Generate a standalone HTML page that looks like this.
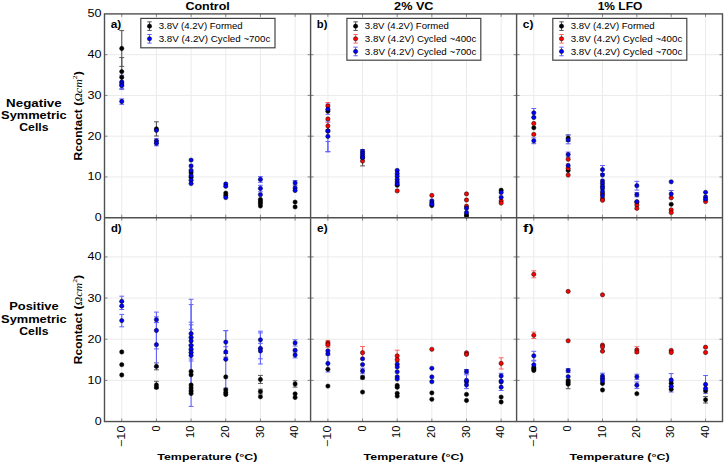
<!DOCTYPE html>
<html><head><meta charset="utf-8"><style>
html,body{margin:0;padding:0;background:#fff;}
body{width:725px;height:463px;overflow:hidden;}
svg{display:block;font-family:"Liberation Sans", sans-serif;}
</style></head><body>
<svg width="725" height="463" viewBox="0 0 725 463" font-family='"Liberation Sans", sans-serif'>
<rect width="725" height="463" fill="#fff"/>
<line x1="121.75" y1="13.9" x2="121.75" y2="421.55" stroke="#ebebeb" stroke-width="1"/>
<line x1="156.42" y1="13.9" x2="156.42" y2="421.55" stroke="#ebebeb" stroke-width="1"/>
<line x1="191.09" y1="13.9" x2="191.09" y2="421.55" stroke="#ebebeb" stroke-width="1"/>
<line x1="225.76" y1="13.9" x2="225.76" y2="421.55" stroke="#ebebeb" stroke-width="1"/>
<line x1="260.43" y1="13.9" x2="260.43" y2="421.55" stroke="#ebebeb" stroke-width="1"/>
<line x1="295.10" y1="13.9" x2="295.10" y2="421.55" stroke="#ebebeb" stroke-width="1"/>
<line x1="104.5" y1="176.95" x2="310.6" y2="176.95" stroke="#ebebeb" stroke-width="1"/>
<line x1="104.5" y1="380.39" x2="310.6" y2="380.39" stroke="#ebebeb" stroke-width="1"/>
<line x1="104.5" y1="136.20" x2="310.6" y2="136.20" stroke="#ebebeb" stroke-width="1"/>
<line x1="104.5" y1="339.23" x2="310.6" y2="339.23" stroke="#ebebeb" stroke-width="1"/>
<line x1="104.5" y1="95.45" x2="310.6" y2="95.45" stroke="#ebebeb" stroke-width="1"/>
<line x1="104.5" y1="298.07" x2="310.6" y2="298.07" stroke="#ebebeb" stroke-width="1"/>
<line x1="104.5" y1="54.70" x2="310.6" y2="54.70" stroke="#ebebeb" stroke-width="1"/>
<line x1="104.5" y1="256.91" x2="310.6" y2="256.91" stroke="#ebebeb" stroke-width="1"/>
<line x1="327.90" y1="13.9" x2="327.90" y2="421.55" stroke="#ebebeb" stroke-width="1"/>
<line x1="362.55" y1="13.9" x2="362.55" y2="421.55" stroke="#ebebeb" stroke-width="1"/>
<line x1="397.20" y1="13.9" x2="397.20" y2="421.55" stroke="#ebebeb" stroke-width="1"/>
<line x1="431.85" y1="13.9" x2="431.85" y2="421.55" stroke="#ebebeb" stroke-width="1"/>
<line x1="466.50" y1="13.9" x2="466.50" y2="421.55" stroke="#ebebeb" stroke-width="1"/>
<line x1="501.15" y1="13.9" x2="501.15" y2="421.55" stroke="#ebebeb" stroke-width="1"/>
<line x1="310.6" y1="176.95" x2="516.6" y2="176.95" stroke="#ebebeb" stroke-width="1"/>
<line x1="310.6" y1="380.39" x2="516.6" y2="380.39" stroke="#ebebeb" stroke-width="1"/>
<line x1="310.6" y1="136.20" x2="516.6" y2="136.20" stroke="#ebebeb" stroke-width="1"/>
<line x1="310.6" y1="339.23" x2="516.6" y2="339.23" stroke="#ebebeb" stroke-width="1"/>
<line x1="310.6" y1="95.45" x2="516.6" y2="95.45" stroke="#ebebeb" stroke-width="1"/>
<line x1="310.6" y1="298.07" x2="516.6" y2="298.07" stroke="#ebebeb" stroke-width="1"/>
<line x1="310.6" y1="54.70" x2="516.6" y2="54.70" stroke="#ebebeb" stroke-width="1"/>
<line x1="310.6" y1="256.91" x2="516.6" y2="256.91" stroke="#ebebeb" stroke-width="1"/>
<line x1="533.80" y1="13.9" x2="533.80" y2="421.55" stroke="#ebebeb" stroke-width="1"/>
<line x1="568.15" y1="13.9" x2="568.15" y2="421.55" stroke="#ebebeb" stroke-width="1"/>
<line x1="602.50" y1="13.9" x2="602.50" y2="421.55" stroke="#ebebeb" stroke-width="1"/>
<line x1="636.85" y1="13.9" x2="636.85" y2="421.55" stroke="#ebebeb" stroke-width="1"/>
<line x1="671.20" y1="13.9" x2="671.20" y2="421.55" stroke="#ebebeb" stroke-width="1"/>
<line x1="705.55" y1="13.9" x2="705.55" y2="421.55" stroke="#ebebeb" stroke-width="1"/>
<line x1="516.6" y1="176.95" x2="722.5" y2="176.95" stroke="#ebebeb" stroke-width="1"/>
<line x1="516.6" y1="380.39" x2="722.5" y2="380.39" stroke="#ebebeb" stroke-width="1"/>
<line x1="516.6" y1="136.20" x2="722.5" y2="136.20" stroke="#ebebeb" stroke-width="1"/>
<line x1="516.6" y1="339.23" x2="722.5" y2="339.23" stroke="#ebebeb" stroke-width="1"/>
<line x1="516.6" y1="95.45" x2="722.5" y2="95.45" stroke="#ebebeb" stroke-width="1"/>
<line x1="516.6" y1="298.07" x2="722.5" y2="298.07" stroke="#ebebeb" stroke-width="1"/>
<line x1="516.6" y1="54.70" x2="722.5" y2="54.70" stroke="#ebebeb" stroke-width="1"/>
<line x1="516.6" y1="256.91" x2="722.5" y2="256.91" stroke="#ebebeb" stroke-width="1"/>
<line x1="121.75" y1="13.9" x2="121.75" y2="16.90" stroke="#888" stroke-width="1"/>
<line x1="121.75" y1="217.7" x2="121.75" y2="214.70" stroke="#888" stroke-width="1"/>
<line x1="121.75" y1="217.7" x2="121.75" y2="220.70" stroke="#888" stroke-width="1"/>
<line x1="121.75" y1="421.55" x2="121.75" y2="418.55" stroke="#888" stroke-width="1"/>
<line x1="156.42" y1="13.9" x2="156.42" y2="16.90" stroke="#888" stroke-width="1"/>
<line x1="156.42" y1="217.7" x2="156.42" y2="214.70" stroke="#888" stroke-width="1"/>
<line x1="156.42" y1="217.7" x2="156.42" y2="220.70" stroke="#888" stroke-width="1"/>
<line x1="156.42" y1="421.55" x2="156.42" y2="418.55" stroke="#888" stroke-width="1"/>
<line x1="191.09" y1="13.9" x2="191.09" y2="16.90" stroke="#888" stroke-width="1"/>
<line x1="191.09" y1="217.7" x2="191.09" y2="214.70" stroke="#888" stroke-width="1"/>
<line x1="191.09" y1="217.7" x2="191.09" y2="220.70" stroke="#888" stroke-width="1"/>
<line x1="191.09" y1="421.55" x2="191.09" y2="418.55" stroke="#888" stroke-width="1"/>
<line x1="225.76" y1="13.9" x2="225.76" y2="16.90" stroke="#888" stroke-width="1"/>
<line x1="225.76" y1="217.7" x2="225.76" y2="214.70" stroke="#888" stroke-width="1"/>
<line x1="225.76" y1="217.7" x2="225.76" y2="220.70" stroke="#888" stroke-width="1"/>
<line x1="225.76" y1="421.55" x2="225.76" y2="418.55" stroke="#888" stroke-width="1"/>
<line x1="260.43" y1="13.9" x2="260.43" y2="16.90" stroke="#888" stroke-width="1"/>
<line x1="260.43" y1="217.7" x2="260.43" y2="214.70" stroke="#888" stroke-width="1"/>
<line x1="260.43" y1="217.7" x2="260.43" y2="220.70" stroke="#888" stroke-width="1"/>
<line x1="260.43" y1="421.55" x2="260.43" y2="418.55" stroke="#888" stroke-width="1"/>
<line x1="295.10" y1="13.9" x2="295.10" y2="16.90" stroke="#888" stroke-width="1"/>
<line x1="295.10" y1="217.7" x2="295.10" y2="214.70" stroke="#888" stroke-width="1"/>
<line x1="295.10" y1="217.7" x2="295.10" y2="220.70" stroke="#888" stroke-width="1"/>
<line x1="295.10" y1="421.55" x2="295.10" y2="418.55" stroke="#888" stroke-width="1"/>
<line x1="104.5" y1="176.95" x2="107.5" y2="176.95" stroke="#888" stroke-width="1"/>
<line x1="310.6" y1="176.95" x2="307.6" y2="176.95" stroke="#888" stroke-width="1"/>
<line x1="104.5" y1="380.39" x2="107.5" y2="380.39" stroke="#888" stroke-width="1"/>
<line x1="310.6" y1="380.39" x2="307.6" y2="380.39" stroke="#888" stroke-width="1"/>
<line x1="104.5" y1="136.20" x2="107.5" y2="136.20" stroke="#888" stroke-width="1"/>
<line x1="310.6" y1="136.20" x2="307.6" y2="136.20" stroke="#888" stroke-width="1"/>
<line x1="104.5" y1="339.23" x2="107.5" y2="339.23" stroke="#888" stroke-width="1"/>
<line x1="310.6" y1="339.23" x2="307.6" y2="339.23" stroke="#888" stroke-width="1"/>
<line x1="104.5" y1="95.45" x2="107.5" y2="95.45" stroke="#888" stroke-width="1"/>
<line x1="310.6" y1="95.45" x2="307.6" y2="95.45" stroke="#888" stroke-width="1"/>
<line x1="104.5" y1="298.07" x2="107.5" y2="298.07" stroke="#888" stroke-width="1"/>
<line x1="310.6" y1="298.07" x2="307.6" y2="298.07" stroke="#888" stroke-width="1"/>
<line x1="104.5" y1="54.70" x2="107.5" y2="54.70" stroke="#888" stroke-width="1"/>
<line x1="310.6" y1="54.70" x2="307.6" y2="54.70" stroke="#888" stroke-width="1"/>
<line x1="104.5" y1="256.91" x2="107.5" y2="256.91" stroke="#888" stroke-width="1"/>
<line x1="310.6" y1="256.91" x2="307.6" y2="256.91" stroke="#888" stroke-width="1"/>
<line x1="327.90" y1="13.9" x2="327.90" y2="16.90" stroke="#888" stroke-width="1"/>
<line x1="327.90" y1="217.7" x2="327.90" y2="214.70" stroke="#888" stroke-width="1"/>
<line x1="327.90" y1="217.7" x2="327.90" y2="220.70" stroke="#888" stroke-width="1"/>
<line x1="327.90" y1="421.55" x2="327.90" y2="418.55" stroke="#888" stroke-width="1"/>
<line x1="362.55" y1="13.9" x2="362.55" y2="16.90" stroke="#888" stroke-width="1"/>
<line x1="362.55" y1="217.7" x2="362.55" y2="214.70" stroke="#888" stroke-width="1"/>
<line x1="362.55" y1="217.7" x2="362.55" y2="220.70" stroke="#888" stroke-width="1"/>
<line x1="362.55" y1="421.55" x2="362.55" y2="418.55" stroke="#888" stroke-width="1"/>
<line x1="397.20" y1="13.9" x2="397.20" y2="16.90" stroke="#888" stroke-width="1"/>
<line x1="397.20" y1="217.7" x2="397.20" y2="214.70" stroke="#888" stroke-width="1"/>
<line x1="397.20" y1="217.7" x2="397.20" y2="220.70" stroke="#888" stroke-width="1"/>
<line x1="397.20" y1="421.55" x2="397.20" y2="418.55" stroke="#888" stroke-width="1"/>
<line x1="431.85" y1="13.9" x2="431.85" y2="16.90" stroke="#888" stroke-width="1"/>
<line x1="431.85" y1="217.7" x2="431.85" y2="214.70" stroke="#888" stroke-width="1"/>
<line x1="431.85" y1="217.7" x2="431.85" y2="220.70" stroke="#888" stroke-width="1"/>
<line x1="431.85" y1="421.55" x2="431.85" y2="418.55" stroke="#888" stroke-width="1"/>
<line x1="466.50" y1="13.9" x2="466.50" y2="16.90" stroke="#888" stroke-width="1"/>
<line x1="466.50" y1="217.7" x2="466.50" y2="214.70" stroke="#888" stroke-width="1"/>
<line x1="466.50" y1="217.7" x2="466.50" y2="220.70" stroke="#888" stroke-width="1"/>
<line x1="466.50" y1="421.55" x2="466.50" y2="418.55" stroke="#888" stroke-width="1"/>
<line x1="501.15" y1="13.9" x2="501.15" y2="16.90" stroke="#888" stroke-width="1"/>
<line x1="501.15" y1="217.7" x2="501.15" y2="214.70" stroke="#888" stroke-width="1"/>
<line x1="501.15" y1="217.7" x2="501.15" y2="220.70" stroke="#888" stroke-width="1"/>
<line x1="501.15" y1="421.55" x2="501.15" y2="418.55" stroke="#888" stroke-width="1"/>
<line x1="310.6" y1="176.95" x2="313.6" y2="176.95" stroke="#888" stroke-width="1"/>
<line x1="516.6" y1="176.95" x2="513.6" y2="176.95" stroke="#888" stroke-width="1"/>
<line x1="310.6" y1="380.39" x2="313.6" y2="380.39" stroke="#888" stroke-width="1"/>
<line x1="516.6" y1="380.39" x2="513.6" y2="380.39" stroke="#888" stroke-width="1"/>
<line x1="310.6" y1="136.20" x2="313.6" y2="136.20" stroke="#888" stroke-width="1"/>
<line x1="516.6" y1="136.20" x2="513.6" y2="136.20" stroke="#888" stroke-width="1"/>
<line x1="310.6" y1="339.23" x2="313.6" y2="339.23" stroke="#888" stroke-width="1"/>
<line x1="516.6" y1="339.23" x2="513.6" y2="339.23" stroke="#888" stroke-width="1"/>
<line x1="310.6" y1="95.45" x2="313.6" y2="95.45" stroke="#888" stroke-width="1"/>
<line x1="516.6" y1="95.45" x2="513.6" y2="95.45" stroke="#888" stroke-width="1"/>
<line x1="310.6" y1="298.07" x2="313.6" y2="298.07" stroke="#888" stroke-width="1"/>
<line x1="516.6" y1="298.07" x2="513.6" y2="298.07" stroke="#888" stroke-width="1"/>
<line x1="310.6" y1="54.70" x2="313.6" y2="54.70" stroke="#888" stroke-width="1"/>
<line x1="516.6" y1="54.70" x2="513.6" y2="54.70" stroke="#888" stroke-width="1"/>
<line x1="310.6" y1="256.91" x2="313.6" y2="256.91" stroke="#888" stroke-width="1"/>
<line x1="516.6" y1="256.91" x2="513.6" y2="256.91" stroke="#888" stroke-width="1"/>
<line x1="533.80" y1="13.9" x2="533.80" y2="16.90" stroke="#888" stroke-width="1"/>
<line x1="533.80" y1="217.7" x2="533.80" y2="214.70" stroke="#888" stroke-width="1"/>
<line x1="533.80" y1="217.7" x2="533.80" y2="220.70" stroke="#888" stroke-width="1"/>
<line x1="533.80" y1="421.55" x2="533.80" y2="418.55" stroke="#888" stroke-width="1"/>
<line x1="568.15" y1="13.9" x2="568.15" y2="16.90" stroke="#888" stroke-width="1"/>
<line x1="568.15" y1="217.7" x2="568.15" y2="214.70" stroke="#888" stroke-width="1"/>
<line x1="568.15" y1="217.7" x2="568.15" y2="220.70" stroke="#888" stroke-width="1"/>
<line x1="568.15" y1="421.55" x2="568.15" y2="418.55" stroke="#888" stroke-width="1"/>
<line x1="602.50" y1="13.9" x2="602.50" y2="16.90" stroke="#888" stroke-width="1"/>
<line x1="602.50" y1="217.7" x2="602.50" y2="214.70" stroke="#888" stroke-width="1"/>
<line x1="602.50" y1="217.7" x2="602.50" y2="220.70" stroke="#888" stroke-width="1"/>
<line x1="602.50" y1="421.55" x2="602.50" y2="418.55" stroke="#888" stroke-width="1"/>
<line x1="636.85" y1="13.9" x2="636.85" y2="16.90" stroke="#888" stroke-width="1"/>
<line x1="636.85" y1="217.7" x2="636.85" y2="214.70" stroke="#888" stroke-width="1"/>
<line x1="636.85" y1="217.7" x2="636.85" y2="220.70" stroke="#888" stroke-width="1"/>
<line x1="636.85" y1="421.55" x2="636.85" y2="418.55" stroke="#888" stroke-width="1"/>
<line x1="671.20" y1="13.9" x2="671.20" y2="16.90" stroke="#888" stroke-width="1"/>
<line x1="671.20" y1="217.7" x2="671.20" y2="214.70" stroke="#888" stroke-width="1"/>
<line x1="671.20" y1="217.7" x2="671.20" y2="220.70" stroke="#888" stroke-width="1"/>
<line x1="671.20" y1="421.55" x2="671.20" y2="418.55" stroke="#888" stroke-width="1"/>
<line x1="705.55" y1="13.9" x2="705.55" y2="16.90" stroke="#888" stroke-width="1"/>
<line x1="705.55" y1="217.7" x2="705.55" y2="214.70" stroke="#888" stroke-width="1"/>
<line x1="705.55" y1="217.7" x2="705.55" y2="220.70" stroke="#888" stroke-width="1"/>
<line x1="705.55" y1="421.55" x2="705.55" y2="418.55" stroke="#888" stroke-width="1"/>
<line x1="516.6" y1="176.95" x2="519.6" y2="176.95" stroke="#888" stroke-width="1"/>
<line x1="722.5" y1="176.95" x2="719.5" y2="176.95" stroke="#888" stroke-width="1"/>
<line x1="516.6" y1="380.39" x2="519.6" y2="380.39" stroke="#888" stroke-width="1"/>
<line x1="722.5" y1="380.39" x2="719.5" y2="380.39" stroke="#888" stroke-width="1"/>
<line x1="516.6" y1="136.20" x2="519.6" y2="136.20" stroke="#888" stroke-width="1"/>
<line x1="722.5" y1="136.20" x2="719.5" y2="136.20" stroke="#888" stroke-width="1"/>
<line x1="516.6" y1="339.23" x2="519.6" y2="339.23" stroke="#888" stroke-width="1"/>
<line x1="722.5" y1="339.23" x2="719.5" y2="339.23" stroke="#888" stroke-width="1"/>
<line x1="516.6" y1="95.45" x2="519.6" y2="95.45" stroke="#888" stroke-width="1"/>
<line x1="722.5" y1="95.45" x2="719.5" y2="95.45" stroke="#888" stroke-width="1"/>
<line x1="516.6" y1="298.07" x2="519.6" y2="298.07" stroke="#888" stroke-width="1"/>
<line x1="722.5" y1="298.07" x2="719.5" y2="298.07" stroke="#888" stroke-width="1"/>
<line x1="516.6" y1="54.70" x2="519.6" y2="54.70" stroke="#888" stroke-width="1"/>
<line x1="722.5" y1="54.70" x2="719.5" y2="54.70" stroke="#888" stroke-width="1"/>
<line x1="516.6" y1="256.91" x2="519.6" y2="256.91" stroke="#888" stroke-width="1"/>
<line x1="722.5" y1="256.91" x2="719.5" y2="256.91" stroke="#888" stroke-width="1"/>
<line x1="121.75" y1="30.6" x2="121.75" y2="66.4" stroke="#555555" stroke-width="1.1"/>
<line x1="119.35" y1="30.6" x2="124.15" y2="30.6" stroke="#555555" stroke-width="1"/>
<line x1="119.35" y1="66.4" x2="124.15" y2="66.4" stroke="#555555" stroke-width="1"/>
<line x1="121.75" y1="57.6" x2="121.75" y2="85.6" stroke="#555555" stroke-width="1.1"/>
<line x1="119.35" y1="57.6" x2="124.15" y2="57.6" stroke="#555555" stroke-width="1"/>
<line x1="119.35" y1="85.6" x2="124.15" y2="85.6" stroke="#555555" stroke-width="1"/>
<line x1="121.75" y1="75.3" x2="121.75" y2="88.7" stroke="#6262ff" stroke-width="1.1"/>
<line x1="119.35" y1="75.3" x2="124.15" y2="75.3" stroke="#6262ff" stroke-width="1"/>
<line x1="119.35" y1="88.7" x2="124.15" y2="88.7" stroke="#6262ff" stroke-width="1"/>
<line x1="121.75" y1="82.0" x2="121.75" y2="89.4" stroke="#6262ff" stroke-width="1.1"/>
<line x1="119.35" y1="82.0" x2="124.15" y2="82.0" stroke="#6262ff" stroke-width="1"/>
<line x1="119.35" y1="89.4" x2="124.15" y2="89.4" stroke="#6262ff" stroke-width="1"/>
<line x1="121.75" y1="98.9" x2="121.75" y2="104.3" stroke="#6262ff" stroke-width="1.1"/>
<line x1="119.35" y1="98.9" x2="124.15" y2="98.9" stroke="#6262ff" stroke-width="1"/>
<line x1="119.35" y1="104.3" x2="124.15" y2="104.3" stroke="#6262ff" stroke-width="1"/>
<line x1="156.42" y1="121.8" x2="156.42" y2="136.0" stroke="#555555" stroke-width="1.1"/>
<line x1="154.02" y1="121.8" x2="158.82" y2="121.8" stroke="#555555" stroke-width="1"/>
<line x1="154.02" y1="136.0" x2="158.82" y2="136.0" stroke="#555555" stroke-width="1"/>
<line x1="156.42" y1="138.7" x2="156.42" y2="143.3" stroke="#6262ff" stroke-width="1.1"/>
<line x1="154.02" y1="138.7" x2="158.82" y2="138.7" stroke="#6262ff" stroke-width="1"/>
<line x1="154.02" y1="143.3" x2="158.82" y2="143.3" stroke="#6262ff" stroke-width="1"/>
<line x1="156.42" y1="140.8" x2="156.42" y2="145.8" stroke="#6262ff" stroke-width="1.1"/>
<line x1="154.02" y1="140.8" x2="158.82" y2="140.8" stroke="#6262ff" stroke-width="1"/>
<line x1="154.02" y1="145.8" x2="158.82" y2="145.8" stroke="#6262ff" stroke-width="1"/>
<line x1="260.43" y1="176.6" x2="260.43" y2="182.3" stroke="#6262ff" stroke-width="1.1"/>
<line x1="258.03" y1="176.6" x2="262.83" y2="176.6" stroke="#6262ff" stroke-width="1"/>
<line x1="258.03" y1="182.3" x2="262.83" y2="182.3" stroke="#6262ff" stroke-width="1"/>
<line x1="260.43" y1="185.3" x2="260.43" y2="191.8" stroke="#6262ff" stroke-width="1.1"/>
<line x1="258.03" y1="185.3" x2="262.83" y2="185.3" stroke="#6262ff" stroke-width="1"/>
<line x1="258.03" y1="191.8" x2="262.83" y2="191.8" stroke="#6262ff" stroke-width="1"/>
<line x1="295.10" y1="180.5" x2="295.10" y2="185.3" stroke="#6262ff" stroke-width="1.1"/>
<line x1="292.70" y1="180.5" x2="297.50" y2="180.5" stroke="#6262ff" stroke-width="1"/>
<line x1="292.70" y1="185.3" x2="297.50" y2="185.3" stroke="#6262ff" stroke-width="1"/>
<line x1="327.90" y1="102.5" x2="327.90" y2="109.5" stroke="#ff6464" stroke-width="1.1"/>
<line x1="325.50" y1="102.5" x2="330.30" y2="102.5" stroke="#ff6464" stroke-width="1"/>
<line x1="325.50" y1="109.5" x2="330.30" y2="109.5" stroke="#ff6464" stroke-width="1"/>
<line x1="327.90" y1="122.4" x2="327.90" y2="129.6" stroke="#ff6464" stroke-width="1.1"/>
<line x1="325.50" y1="122.4" x2="330.30" y2="122.4" stroke="#ff6464" stroke-width="1"/>
<line x1="325.50" y1="129.6" x2="330.30" y2="129.6" stroke="#ff6464" stroke-width="1"/>
<line x1="327.90" y1="104.1" x2="327.90" y2="114.3" stroke="#6262ff" stroke-width="1.1"/>
<line x1="325.50" y1="104.1" x2="330.30" y2="104.1" stroke="#6262ff" stroke-width="1"/>
<line x1="325.50" y1="114.3" x2="330.30" y2="114.3" stroke="#6262ff" stroke-width="1"/>
<line x1="327.90" y1="121.0" x2="327.90" y2="151.9" stroke="#6262ff" stroke-width="1.1"/>
<line x1="325.50" y1="121.0" x2="330.30" y2="121.0" stroke="#6262ff" stroke-width="1"/>
<line x1="325.50" y1="151.9" x2="330.30" y2="151.9" stroke="#6262ff" stroke-width="1"/>
<line x1="327.90" y1="141.5" x2="327.90" y2="151.5" stroke="#6262ff" stroke-width="1.1"/>
<line x1="325.50" y1="141.5" x2="330.30" y2="141.5" stroke="#6262ff" stroke-width="1"/>
<line x1="325.50" y1="151.5" x2="330.30" y2="151.5" stroke="#6262ff" stroke-width="1"/>
<line x1="362.55" y1="149.7" x2="362.55" y2="165.9" stroke="#555555" stroke-width="1.1"/>
<line x1="360.15" y1="149.7" x2="364.95" y2="149.7" stroke="#555555" stroke-width="1"/>
<line x1="360.15" y1="165.9" x2="364.95" y2="165.9" stroke="#555555" stroke-width="1"/>
<line x1="362.55" y1="149.6" x2="362.55" y2="153.0" stroke="#6262ff" stroke-width="1.1"/>
<line x1="360.15" y1="149.6" x2="364.95" y2="149.6" stroke="#6262ff" stroke-width="1"/>
<line x1="360.15" y1="153.0" x2="364.95" y2="153.0" stroke="#6262ff" stroke-width="1"/>
<line x1="533.80" y1="108.5" x2="533.80" y2="117.1" stroke="#6262ff" stroke-width="1.1"/>
<line x1="531.40" y1="108.5" x2="536.20" y2="108.5" stroke="#6262ff" stroke-width="1"/>
<line x1="531.40" y1="117.1" x2="536.20" y2="117.1" stroke="#6262ff" stroke-width="1"/>
<line x1="533.80" y1="137.9" x2="533.80" y2="143.7" stroke="#6262ff" stroke-width="1.1"/>
<line x1="531.40" y1="137.9" x2="536.20" y2="137.9" stroke="#6262ff" stroke-width="1"/>
<line x1="531.40" y1="143.7" x2="536.20" y2="143.7" stroke="#6262ff" stroke-width="1"/>
<line x1="568.15" y1="134.9" x2="568.15" y2="141.3" stroke="#555555" stroke-width="1.1"/>
<line x1="565.75" y1="134.9" x2="570.55" y2="134.9" stroke="#555555" stroke-width="1"/>
<line x1="565.75" y1="141.3" x2="570.55" y2="141.3" stroke="#555555" stroke-width="1"/>
<line x1="568.15" y1="135.0" x2="568.15" y2="143.8" stroke="#6262ff" stroke-width="1.1"/>
<line x1="565.75" y1="135.0" x2="570.55" y2="135.0" stroke="#6262ff" stroke-width="1"/>
<line x1="565.75" y1="143.8" x2="570.55" y2="143.8" stroke="#6262ff" stroke-width="1"/>
<line x1="568.15" y1="152.1" x2="568.15" y2="157.1" stroke="#6262ff" stroke-width="1.1"/>
<line x1="565.75" y1="152.1" x2="570.55" y2="152.1" stroke="#6262ff" stroke-width="1"/>
<line x1="565.75" y1="157.1" x2="570.55" y2="157.1" stroke="#6262ff" stroke-width="1"/>
<line x1="602.50" y1="165.5" x2="602.50" y2="173.7" stroke="#6262ff" stroke-width="1.1"/>
<line x1="600.10" y1="165.5" x2="604.90" y2="165.5" stroke="#6262ff" stroke-width="1"/>
<line x1="600.10" y1="173.7" x2="604.90" y2="173.7" stroke="#6262ff" stroke-width="1"/>
<line x1="636.85" y1="181.3" x2="636.85" y2="190.1" stroke="#6262ff" stroke-width="1.1"/>
<line x1="634.45" y1="181.3" x2="639.25" y2="181.3" stroke="#6262ff" stroke-width="1"/>
<line x1="634.45" y1="190.1" x2="639.25" y2="190.1" stroke="#6262ff" stroke-width="1"/>
<line x1="636.85" y1="192.6" x2="636.85" y2="196.8" stroke="#6262ff" stroke-width="1.1"/>
<line x1="634.45" y1="192.6" x2="639.25" y2="192.6" stroke="#6262ff" stroke-width="1"/>
<line x1="634.45" y1="196.8" x2="639.25" y2="196.8" stroke="#6262ff" stroke-width="1"/>
<line x1="671.20" y1="190.5" x2="671.20" y2="197.5" stroke="#6262ff" stroke-width="1.1"/>
<line x1="668.80" y1="190.5" x2="673.60" y2="190.5" stroke="#6262ff" stroke-width="1"/>
<line x1="668.80" y1="197.5" x2="673.60" y2="197.5" stroke="#6262ff" stroke-width="1"/>
<line x1="121.75" y1="296.2" x2="121.75" y2="306.4" stroke="#6262ff" stroke-width="1.1"/>
<line x1="119.35" y1="296.2" x2="124.15" y2="296.2" stroke="#6262ff" stroke-width="1"/>
<line x1="119.35" y1="306.4" x2="124.15" y2="306.4" stroke="#6262ff" stroke-width="1"/>
<line x1="121.75" y1="302.0" x2="121.75" y2="309.5" stroke="#6262ff" stroke-width="1.1"/>
<line x1="119.35" y1="302.0" x2="124.15" y2="302.0" stroke="#6262ff" stroke-width="1"/>
<line x1="119.35" y1="309.5" x2="124.15" y2="309.5" stroke="#6262ff" stroke-width="1"/>
<line x1="121.75" y1="314.4" x2="121.75" y2="326.8" stroke="#6262ff" stroke-width="1.1"/>
<line x1="119.35" y1="314.4" x2="124.15" y2="314.4" stroke="#6262ff" stroke-width="1"/>
<line x1="119.35" y1="326.8" x2="124.15" y2="326.8" stroke="#6262ff" stroke-width="1"/>
<line x1="156.42" y1="362.9" x2="156.42" y2="369.8" stroke="#555555" stroke-width="1.1"/>
<line x1="154.02" y1="362.9" x2="158.82" y2="362.9" stroke="#555555" stroke-width="1"/>
<line x1="154.02" y1="369.8" x2="158.82" y2="369.8" stroke="#555555" stroke-width="1"/>
<line x1="156.42" y1="381.3" x2="156.42" y2="388.7" stroke="#555555" stroke-width="1.1"/>
<line x1="154.02" y1="381.3" x2="158.82" y2="381.3" stroke="#555555" stroke-width="1"/>
<line x1="154.02" y1="388.7" x2="158.82" y2="388.7" stroke="#555555" stroke-width="1"/>
<line x1="156.42" y1="316.8" x2="156.42" y2="322.6" stroke="#6262ff" stroke-width="1.1"/>
<line x1="154.02" y1="316.8" x2="158.82" y2="316.8" stroke="#6262ff" stroke-width="1"/>
<line x1="154.02" y1="322.6" x2="158.82" y2="322.6" stroke="#6262ff" stroke-width="1"/>
<line x1="156.42" y1="312.1" x2="156.42" y2="348.9" stroke="#6262ff" stroke-width="1.1"/>
<line x1="154.02" y1="312.1" x2="158.82" y2="312.1" stroke="#6262ff" stroke-width="1"/>
<line x1="154.02" y1="348.9" x2="158.82" y2="348.9" stroke="#6262ff" stroke-width="1"/>
<line x1="156.42" y1="322.4" x2="156.42" y2="367.0" stroke="#6262ff" stroke-width="1.1"/>
<line x1="154.02" y1="322.4" x2="158.82" y2="322.4" stroke="#6262ff" stroke-width="1"/>
<line x1="154.02" y1="367.0" x2="158.82" y2="367.0" stroke="#6262ff" stroke-width="1"/>
<line x1="191.09" y1="322.2" x2="191.09" y2="345.0" stroke="#6262ff" stroke-width="1.1"/>
<line x1="188.69" y1="322.2" x2="193.49" y2="322.2" stroke="#6262ff" stroke-width="1"/>
<line x1="188.69" y1="345.0" x2="193.49" y2="345.0" stroke="#6262ff" stroke-width="1"/>
<line x1="191.09" y1="324.8" x2="191.09" y2="350.0" stroke="#6262ff" stroke-width="1.1"/>
<line x1="188.69" y1="324.8" x2="193.49" y2="324.8" stroke="#6262ff" stroke-width="1"/>
<line x1="188.69" y1="350.0" x2="193.49" y2="350.0" stroke="#6262ff" stroke-width="1"/>
<line x1="191.09" y1="329.3" x2="191.09" y2="352.5" stroke="#6262ff" stroke-width="1.1"/>
<line x1="188.69" y1="329.3" x2="193.49" y2="329.3" stroke="#6262ff" stroke-width="1"/>
<line x1="188.69" y1="352.5" x2="193.49" y2="352.5" stroke="#6262ff" stroke-width="1"/>
<line x1="191.09" y1="299.3" x2="191.09" y2="391.7" stroke="#6262ff" stroke-width="1.1"/>
<line x1="188.69" y1="299.3" x2="193.49" y2="299.3" stroke="#6262ff" stroke-width="1"/>
<line x1="188.69" y1="391.7" x2="193.49" y2="391.7" stroke="#6262ff" stroke-width="1"/>
<line x1="191.09" y1="337.4" x2="191.09" y2="361.0" stroke="#6262ff" stroke-width="1.1"/>
<line x1="188.69" y1="337.4" x2="193.49" y2="337.4" stroke="#6262ff" stroke-width="1"/>
<line x1="188.69" y1="361.0" x2="193.49" y2="361.0" stroke="#6262ff" stroke-width="1"/>
<line x1="191.09" y1="345.0" x2="191.09" y2="359.0" stroke="#6262ff" stroke-width="1.1"/>
<line x1="188.69" y1="345.0" x2="193.49" y2="345.0" stroke="#6262ff" stroke-width="1"/>
<line x1="188.69" y1="359.0" x2="193.49" y2="359.0" stroke="#6262ff" stroke-width="1"/>
<line x1="191.09" y1="304.6" x2="191.09" y2="406.4" stroke="#6262ff" stroke-width="1.1"/>
<line x1="188.69" y1="304.6" x2="193.49" y2="304.6" stroke="#6262ff" stroke-width="1"/>
<line x1="188.69" y1="406.4" x2="193.49" y2="406.4" stroke="#6262ff" stroke-width="1"/>
<line x1="225.76" y1="330.7" x2="225.76" y2="353.5" stroke="#6262ff" stroke-width="1.1"/>
<line x1="223.36" y1="330.7" x2="228.16" y2="330.7" stroke="#6262ff" stroke-width="1"/>
<line x1="223.36" y1="353.5" x2="228.16" y2="353.5" stroke="#6262ff" stroke-width="1"/>
<line x1="225.76" y1="346.7" x2="225.76" y2="357.1" stroke="#6262ff" stroke-width="1.1"/>
<line x1="223.36" y1="346.7" x2="228.16" y2="346.7" stroke="#6262ff" stroke-width="1"/>
<line x1="223.36" y1="357.1" x2="228.16" y2="357.1" stroke="#6262ff" stroke-width="1"/>
<line x1="225.76" y1="330.6" x2="225.76" y2="388.1" stroke="#6262ff" stroke-width="1.1"/>
<line x1="223.36" y1="330.6" x2="228.16" y2="330.6" stroke="#6262ff" stroke-width="1"/>
<line x1="223.36" y1="388.1" x2="228.16" y2="388.1" stroke="#6262ff" stroke-width="1"/>
<line x1="260.43" y1="375.4" x2="260.43" y2="383.4" stroke="#555555" stroke-width="1.1"/>
<line x1="258.03" y1="375.4" x2="262.83" y2="375.4" stroke="#555555" stroke-width="1"/>
<line x1="258.03" y1="383.4" x2="262.83" y2="383.4" stroke="#555555" stroke-width="1"/>
<line x1="260.43" y1="389.2" x2="260.43" y2="394.0" stroke="#555555" stroke-width="1.1"/>
<line x1="258.03" y1="389.2" x2="262.83" y2="389.2" stroke="#555555" stroke-width="1"/>
<line x1="258.03" y1="394.0" x2="262.83" y2="394.0" stroke="#555555" stroke-width="1"/>
<line x1="260.43" y1="331.2" x2="260.43" y2="348.4" stroke="#6262ff" stroke-width="1.1"/>
<line x1="258.03" y1="331.2" x2="262.83" y2="331.2" stroke="#6262ff" stroke-width="1"/>
<line x1="258.03" y1="348.4" x2="262.83" y2="348.4" stroke="#6262ff" stroke-width="1"/>
<line x1="260.43" y1="332.9" x2="260.43" y2="364.0" stroke="#6262ff" stroke-width="1.1"/>
<line x1="258.03" y1="332.9" x2="262.83" y2="332.9" stroke="#6262ff" stroke-width="1"/>
<line x1="258.03" y1="364.0" x2="262.83" y2="364.0" stroke="#6262ff" stroke-width="1"/>
<line x1="260.43" y1="343.3" x2="260.43" y2="358.8" stroke="#6262ff" stroke-width="1.1"/>
<line x1="258.03" y1="343.3" x2="262.83" y2="343.3" stroke="#6262ff" stroke-width="1"/>
<line x1="258.03" y1="358.8" x2="262.83" y2="358.8" stroke="#6262ff" stroke-width="1"/>
<line x1="295.10" y1="380.8" x2="295.10" y2="387.1" stroke="#555555" stroke-width="1.1"/>
<line x1="292.70" y1="380.8" x2="297.50" y2="380.8" stroke="#555555" stroke-width="1"/>
<line x1="292.70" y1="387.1" x2="297.50" y2="387.1" stroke="#555555" stroke-width="1"/>
<line x1="295.10" y1="339.8" x2="295.10" y2="346.0" stroke="#6262ff" stroke-width="1.1"/>
<line x1="292.70" y1="339.8" x2="297.50" y2="339.8" stroke="#6262ff" stroke-width="1"/>
<line x1="292.70" y1="346.0" x2="297.50" y2="346.0" stroke="#6262ff" stroke-width="1"/>
<line x1="295.10" y1="352.1" x2="295.10" y2="357.9" stroke="#6262ff" stroke-width="1.1"/>
<line x1="292.70" y1="352.1" x2="297.50" y2="352.1" stroke="#6262ff" stroke-width="1"/>
<line x1="292.70" y1="357.9" x2="297.50" y2="357.9" stroke="#6262ff" stroke-width="1"/>
<line x1="327.90" y1="340.4" x2="327.90" y2="345.6" stroke="#ff6464" stroke-width="1.1"/>
<line x1="325.50" y1="340.4" x2="330.30" y2="340.4" stroke="#ff6464" stroke-width="1"/>
<line x1="325.50" y1="345.6" x2="330.30" y2="345.6" stroke="#ff6464" stroke-width="1"/>
<line x1="327.90" y1="342.1" x2="327.90" y2="347.3" stroke="#ff6464" stroke-width="1.1"/>
<line x1="325.50" y1="342.1" x2="330.30" y2="342.1" stroke="#ff6464" stroke-width="1"/>
<line x1="325.50" y1="347.3" x2="330.30" y2="347.3" stroke="#ff6464" stroke-width="1"/>
<line x1="327.90" y1="355.0" x2="327.90" y2="372.0" stroke="#6262ff" stroke-width="1.1"/>
<line x1="325.50" y1="355.0" x2="330.30" y2="355.0" stroke="#6262ff" stroke-width="1"/>
<line x1="325.50" y1="372.0" x2="330.30" y2="372.0" stroke="#6262ff" stroke-width="1"/>
<line x1="362.55" y1="376" x2="362.55" y2="379" stroke="#555555" stroke-width="1.1"/>
<line x1="360.15" y1="376" x2="364.95" y2="376" stroke="#555555" stroke-width="1"/>
<line x1="360.15" y1="379" x2="364.95" y2="379" stroke="#555555" stroke-width="1"/>
<line x1="362.55" y1="346.5" x2="362.55" y2="358.9" stroke="#ff6464" stroke-width="1.1"/>
<line x1="360.15" y1="346.5" x2="364.95" y2="346.5" stroke="#ff6464" stroke-width="1"/>
<line x1="360.15" y1="358.9" x2="364.95" y2="358.9" stroke="#ff6464" stroke-width="1"/>
<line x1="362.55" y1="368.2" x2="362.55" y2="373.8" stroke="#6262ff" stroke-width="1.1"/>
<line x1="360.15" y1="368.2" x2="364.95" y2="368.2" stroke="#6262ff" stroke-width="1"/>
<line x1="360.15" y1="373.8" x2="364.95" y2="373.8" stroke="#6262ff" stroke-width="1"/>
<line x1="397.20" y1="350.2" x2="397.20" y2="361.6" stroke="#ff6464" stroke-width="1.1"/>
<line x1="394.80" y1="350.2" x2="399.60" y2="350.2" stroke="#ff6464" stroke-width="1"/>
<line x1="394.80" y1="361.6" x2="399.60" y2="361.6" stroke="#ff6464" stroke-width="1"/>
<line x1="466.50" y1="369.5" x2="466.50" y2="373.3" stroke="#6262ff" stroke-width="1.1"/>
<line x1="464.10" y1="369.5" x2="468.90" y2="369.5" stroke="#6262ff" stroke-width="1"/>
<line x1="464.10" y1="373.3" x2="468.90" y2="373.3" stroke="#6262ff" stroke-width="1"/>
<line x1="466.50" y1="374.8" x2="466.50" y2="388.6" stroke="#6262ff" stroke-width="1.1"/>
<line x1="464.10" y1="374.8" x2="468.90" y2="374.8" stroke="#6262ff" stroke-width="1"/>
<line x1="464.10" y1="388.6" x2="468.90" y2="388.6" stroke="#6262ff" stroke-width="1"/>
<line x1="501.15" y1="357.8" x2="501.15" y2="369.0" stroke="#ff6464" stroke-width="1.1"/>
<line x1="498.75" y1="357.8" x2="503.55" y2="357.8" stroke="#ff6464" stroke-width="1"/>
<line x1="498.75" y1="369.0" x2="503.55" y2="369.0" stroke="#ff6464" stroke-width="1"/>
<line x1="501.15" y1="373.3" x2="501.15" y2="390.5" stroke="#6262ff" stroke-width="1.1"/>
<line x1="498.75" y1="373.3" x2="503.55" y2="373.3" stroke="#6262ff" stroke-width="1"/>
<line x1="498.75" y1="390.5" x2="503.55" y2="390.5" stroke="#6262ff" stroke-width="1"/>
<line x1="533.80" y1="270.8" x2="533.80" y2="277.8" stroke="#ff6464" stroke-width="1.1"/>
<line x1="531.40" y1="270.8" x2="536.20" y2="270.8" stroke="#ff6464" stroke-width="1"/>
<line x1="531.40" y1="277.8" x2="536.20" y2="277.8" stroke="#ff6464" stroke-width="1"/>
<line x1="533.80" y1="332.1" x2="533.80" y2="338.5" stroke="#ff6464" stroke-width="1.1"/>
<line x1="531.40" y1="332.1" x2="536.20" y2="332.1" stroke="#ff6464" stroke-width="1"/>
<line x1="531.40" y1="338.5" x2="536.20" y2="338.5" stroke="#ff6464" stroke-width="1"/>
<line x1="533.80" y1="351.3" x2="533.80" y2="360.3" stroke="#6262ff" stroke-width="1.1"/>
<line x1="531.40" y1="351.3" x2="536.20" y2="351.3" stroke="#6262ff" stroke-width="1"/>
<line x1="531.40" y1="360.3" x2="536.20" y2="360.3" stroke="#6262ff" stroke-width="1"/>
<line x1="533.80" y1="361.0" x2="533.80" y2="368.6" stroke="#6262ff" stroke-width="1.1"/>
<line x1="531.40" y1="361.0" x2="536.20" y2="361.0" stroke="#6262ff" stroke-width="1"/>
<line x1="531.40" y1="368.6" x2="536.20" y2="368.6" stroke="#6262ff" stroke-width="1"/>
<line x1="568.15" y1="379.7" x2="568.15" y2="388.7" stroke="#555555" stroke-width="1.1"/>
<line x1="565.75" y1="379.7" x2="570.55" y2="379.7" stroke="#555555" stroke-width="1"/>
<line x1="565.75" y1="388.7" x2="570.55" y2="388.7" stroke="#555555" stroke-width="1"/>
<line x1="568.15" y1="368.6" x2="568.15" y2="372.6" stroke="#6262ff" stroke-width="1.1"/>
<line x1="565.75" y1="368.6" x2="570.55" y2="368.6" stroke="#6262ff" stroke-width="1"/>
<line x1="565.75" y1="372.6" x2="570.55" y2="372.6" stroke="#6262ff" stroke-width="1"/>
<line x1="602.50" y1="373.2" x2="602.50" y2="379.0" stroke="#6262ff" stroke-width="1.1"/>
<line x1="600.10" y1="373.2" x2="604.90" y2="373.2" stroke="#6262ff" stroke-width="1"/>
<line x1="600.10" y1="379.0" x2="604.90" y2="379.0" stroke="#6262ff" stroke-width="1"/>
<line x1="636.85" y1="346.7" x2="636.85" y2="353.1" stroke="#ff6464" stroke-width="1.1"/>
<line x1="634.45" y1="346.7" x2="639.25" y2="346.7" stroke="#ff6464" stroke-width="1"/>
<line x1="634.45" y1="353.1" x2="639.25" y2="353.1" stroke="#ff6464" stroke-width="1"/>
<line x1="636.85" y1="374.2" x2="636.85" y2="379.4" stroke="#6262ff" stroke-width="1.1"/>
<line x1="634.45" y1="374.2" x2="639.25" y2="374.2" stroke="#6262ff" stroke-width="1"/>
<line x1="634.45" y1="379.4" x2="639.25" y2="379.4" stroke="#6262ff" stroke-width="1"/>
<line x1="636.85" y1="382.0" x2="636.85" y2="388.4" stroke="#6262ff" stroke-width="1.1"/>
<line x1="634.45" y1="382.0" x2="639.25" y2="382.0" stroke="#6262ff" stroke-width="1"/>
<line x1="634.45" y1="388.4" x2="639.25" y2="388.4" stroke="#6262ff" stroke-width="1"/>
<line x1="671.20" y1="373.6" x2="671.20" y2="386.4" stroke="#6262ff" stroke-width="1.1"/>
<line x1="668.80" y1="373.6" x2="673.60" y2="373.6" stroke="#6262ff" stroke-width="1"/>
<line x1="668.80" y1="386.4" x2="673.60" y2="386.4" stroke="#6262ff" stroke-width="1"/>
<line x1="671.20" y1="381.0" x2="671.20" y2="392.0" stroke="#6262ff" stroke-width="1.1"/>
<line x1="668.80" y1="381.0" x2="673.60" y2="381.0" stroke="#6262ff" stroke-width="1"/>
<line x1="668.80" y1="392.0" x2="673.60" y2="392.0" stroke="#6262ff" stroke-width="1"/>
<line x1="705.55" y1="396.6" x2="705.55" y2="403.0" stroke="#555555" stroke-width="1.1"/>
<line x1="703.15" y1="396.6" x2="707.95" y2="396.6" stroke="#555555" stroke-width="1"/>
<line x1="703.15" y1="403.0" x2="707.95" y2="403.0" stroke="#555555" stroke-width="1"/>
<line x1="705.55" y1="375.5" x2="705.55" y2="393.3" stroke="#6262ff" stroke-width="1.1"/>
<line x1="703.15" y1="375.5" x2="707.95" y2="375.5" stroke="#6262ff" stroke-width="1"/>
<line x1="703.15" y1="393.3" x2="707.95" y2="393.3" stroke="#6262ff" stroke-width="1"/>
<circle cx="121.75" cy="48.5" r="2.15" fill="#000" stroke="#000" stroke-width="0.5"/>
<circle cx="121.75" cy="71.6" r="2.15" fill="#000" stroke="#000" stroke-width="0.5"/>
<circle cx="121.75" cy="77.3" r="2.15" fill="#000" stroke="#000" stroke-width="0.5"/>
<circle cx="156.42" cy="128.9" r="2.15" fill="#000" stroke="#000" stroke-width="0.5"/>
<circle cx="191.09" cy="172.7" r="2.15" fill="#000" stroke="#000" stroke-width="0.5"/>
<circle cx="191.09" cy="177.2" r="2.15" fill="#000" stroke="#000" stroke-width="0.5"/>
<circle cx="225.76" cy="193.1" r="2.15" fill="#000" stroke="#000" stroke-width="0.5"/>
<circle cx="225.76" cy="195.4" r="2.15" fill="#000" stroke="#000" stroke-width="0.5"/>
<circle cx="260.43" cy="199.5" r="2.15" fill="#000" stroke="#000" stroke-width="0.5"/>
<circle cx="260.43" cy="201.5" r="2.15" fill="#000" stroke="#000" stroke-width="0.5"/>
<circle cx="260.43" cy="203.4" r="2.15" fill="#000" stroke="#000" stroke-width="0.5"/>
<circle cx="260.43" cy="206.0" r="2.15" fill="#000" stroke="#000" stroke-width="0.5"/>
<circle cx="295.10" cy="202.1" r="2.15" fill="#000" stroke="#000" stroke-width="0.5"/>
<circle cx="295.10" cy="206.9" r="2.15" fill="#000" stroke="#000" stroke-width="0.5"/>
<circle cx="327.90" cy="111.2" r="2.15" fill="#000" stroke="#000" stroke-width="0.5"/>
<circle cx="362.55" cy="157.8" r="2.15" fill="#000" stroke="#000" stroke-width="0.5"/>
<circle cx="397.20" cy="185.3" r="2.15" fill="#000" stroke="#000" stroke-width="0.5"/>
<circle cx="431.85" cy="205.6" r="2.15" fill="#000" stroke="#000" stroke-width="0.5"/>
<circle cx="466.50" cy="214.9" r="2.15" fill="#000" stroke="#000" stroke-width="0.5"/>
<circle cx="466.50" cy="216.0" r="2.15" fill="#000" stroke="#000" stroke-width="0.5"/>
<circle cx="501.15" cy="190.2" r="2.15" fill="#000" stroke="#000" stroke-width="0.5"/>
<circle cx="533.80" cy="127.8" r="2.15" fill="#000" stroke="#000" stroke-width="0.5"/>
<circle cx="568.15" cy="138.1" r="2.15" fill="#000" stroke="#000" stroke-width="0.5"/>
<circle cx="568.15" cy="170.5" r="2.15" fill="#000" stroke="#000" stroke-width="0.5"/>
<circle cx="671.20" cy="204.3" r="2.15" fill="#000" stroke="#000" stroke-width="0.5"/>
<circle cx="121.75" cy="352.0" r="2.15" fill="#000" stroke="#000" stroke-width="0.5"/>
<circle cx="121.75" cy="364.7" r="2.15" fill="#000" stroke="#000" stroke-width="0.5"/>
<circle cx="121.75" cy="375.0" r="2.15" fill="#000" stroke="#000" stroke-width="0.5"/>
<circle cx="156.42" cy="366.4" r="2.15" fill="#000" stroke="#000" stroke-width="0.5"/>
<circle cx="156.42" cy="385.0" r="2.15" fill="#000" stroke="#000" stroke-width="0.5"/>
<circle cx="156.42" cy="387.4" r="2.15" fill="#000" stroke="#000" stroke-width="0.5"/>
<circle cx="191.09" cy="371.4" r="2.15" fill="#000" stroke="#000" stroke-width="0.5"/>
<circle cx="191.09" cy="374.8" r="2.15" fill="#000" stroke="#000" stroke-width="0.5"/>
<circle cx="191.09" cy="385.0" r="2.15" fill="#000" stroke="#000" stroke-width="0.5"/>
<circle cx="191.09" cy="387.9" r="2.15" fill="#000" stroke="#000" stroke-width="0.5"/>
<circle cx="191.09" cy="390.7" r="2.15" fill="#000" stroke="#000" stroke-width="0.5"/>
<circle cx="191.09" cy="393.5" r="2.15" fill="#000" stroke="#000" stroke-width="0.5"/>
<circle cx="225.76" cy="376.9" r="2.15" fill="#000" stroke="#000" stroke-width="0.5"/>
<circle cx="225.76" cy="389.8" r="2.15" fill="#000" stroke="#000" stroke-width="0.5"/>
<circle cx="225.76" cy="392.4" r="2.15" fill="#000" stroke="#000" stroke-width="0.5"/>
<circle cx="225.76" cy="394.5" r="2.15" fill="#000" stroke="#000" stroke-width="0.5"/>
<circle cx="260.43" cy="379.5" r="2.15" fill="#000" stroke="#000" stroke-width="0.5"/>
<circle cx="260.43" cy="391.6" r="2.15" fill="#000" stroke="#000" stroke-width="0.5"/>
<circle cx="260.43" cy="396.8" r="2.15" fill="#000" stroke="#000" stroke-width="0.5"/>
<circle cx="295.10" cy="384.0" r="2.15" fill="#000" stroke="#000" stroke-width="0.5"/>
<circle cx="295.10" cy="393.8" r="2.15" fill="#000" stroke="#000" stroke-width="0.5"/>
<circle cx="295.10" cy="397.5" r="2.15" fill="#000" stroke="#000" stroke-width="0.5"/>
<circle cx="327.90" cy="369.3" r="2.15" fill="#000" stroke="#000" stroke-width="0.5"/>
<circle cx="327.90" cy="386.1" r="2.15" fill="#000" stroke="#000" stroke-width="0.5"/>
<circle cx="362.55" cy="377.5" r="2.15" fill="#000" stroke="#000" stroke-width="0.5"/>
<circle cx="362.55" cy="392.1" r="2.15" fill="#000" stroke="#000" stroke-width="0.5"/>
<circle cx="397.20" cy="385.5" r="2.15" fill="#000" stroke="#000" stroke-width="0.5"/>
<circle cx="397.20" cy="387.3" r="2.15" fill="#000" stroke="#000" stroke-width="0.5"/>
<circle cx="397.20" cy="393.3" r="2.15" fill="#000" stroke="#000" stroke-width="0.5"/>
<circle cx="397.20" cy="396.1" r="2.15" fill="#000" stroke="#000" stroke-width="0.5"/>
<circle cx="431.85" cy="392.9" r="2.15" fill="#000" stroke="#000" stroke-width="0.5"/>
<circle cx="431.85" cy="399.3" r="2.15" fill="#000" stroke="#000" stroke-width="0.5"/>
<circle cx="466.50" cy="394.4" r="2.15" fill="#000" stroke="#000" stroke-width="0.5"/>
<circle cx="466.50" cy="400.5" r="2.15" fill="#000" stroke="#000" stroke-width="0.5"/>
<circle cx="501.15" cy="397.1" r="2.15" fill="#000" stroke="#000" stroke-width="0.5"/>
<circle cx="501.15" cy="402.0" r="2.15" fill="#000" stroke="#000" stroke-width="0.5"/>
<circle cx="533.80" cy="367.4" r="2.15" fill="#000" stroke="#000" stroke-width="0.5"/>
<circle cx="533.80" cy="369.0" r="2.15" fill="#000" stroke="#000" stroke-width="0.5"/>
<circle cx="533.80" cy="370.5" r="2.15" fill="#000" stroke="#000" stroke-width="0.5"/>
<circle cx="568.15" cy="380.9" r="2.15" fill="#000" stroke="#000" stroke-width="0.5"/>
<circle cx="568.15" cy="382.6" r="2.15" fill="#000" stroke="#000" stroke-width="0.5"/>
<circle cx="568.15" cy="384.2" r="2.15" fill="#000" stroke="#000" stroke-width="0.5"/>
<circle cx="602.50" cy="383.5" r="2.15" fill="#000" stroke="#000" stroke-width="0.5"/>
<circle cx="602.50" cy="390.0" r="2.15" fill="#000" stroke="#000" stroke-width="0.5"/>
<circle cx="636.85" cy="393.7" r="2.15" fill="#000" stroke="#000" stroke-width="0.5"/>
<circle cx="671.20" cy="383.3" r="2.15" fill="#000" stroke="#000" stroke-width="0.5"/>
<circle cx="671.20" cy="389.3" r="2.15" fill="#000" stroke="#000" stroke-width="0.5"/>
<circle cx="705.55" cy="390.9" r="2.15" fill="#000" stroke="#000" stroke-width="0.5"/>
<circle cx="705.55" cy="399.8" r="2.15" fill="#000" stroke="#000" stroke-width="0.5"/>
<circle cx="327.90" cy="106.0" r="2.15" fill="#ff0000" stroke="#000" stroke-width="0.5"/>
<circle cx="327.90" cy="118.9" r="2.15" fill="#ff0000" stroke="#000" stroke-width="0.5"/>
<circle cx="327.90" cy="126.0" r="2.15" fill="#ff0000" stroke="#000" stroke-width="0.5"/>
<circle cx="362.55" cy="161.1" r="2.15" fill="#ff0000" stroke="#000" stroke-width="0.5"/>
<circle cx="397.20" cy="190.9" r="2.15" fill="#ff0000" stroke="#000" stroke-width="0.5"/>
<circle cx="431.85" cy="195.4" r="2.15" fill="#ff0000" stroke="#000" stroke-width="0.5"/>
<circle cx="466.50" cy="193.9" r="2.15" fill="#ff0000" stroke="#000" stroke-width="0.5"/>
<circle cx="466.50" cy="200.0" r="2.15" fill="#ff0000" stroke="#000" stroke-width="0.5"/>
<circle cx="466.50" cy="206.2" r="2.15" fill="#ff0000" stroke="#000" stroke-width="0.5"/>
<circle cx="501.15" cy="200.9" r="2.15" fill="#ff0000" stroke="#000" stroke-width="0.5"/>
<circle cx="501.15" cy="203.1" r="2.15" fill="#ff0000" stroke="#000" stroke-width="0.5"/>
<circle cx="533.80" cy="123.5" r="2.15" fill="#ff0000" stroke="#000" stroke-width="0.5"/>
<circle cx="533.80" cy="134.4" r="2.15" fill="#ff0000" stroke="#000" stroke-width="0.5"/>
<circle cx="568.15" cy="159.3" r="2.15" fill="#ff0000" stroke="#000" stroke-width="0.5"/>
<circle cx="568.15" cy="168.3" r="2.15" fill="#ff0000" stroke="#000" stroke-width="0.5"/>
<circle cx="568.15" cy="175.1" r="2.15" fill="#ff0000" stroke="#000" stroke-width="0.5"/>
<circle cx="602.50" cy="193.8" r="2.15" fill="#ff0000" stroke="#000" stroke-width="0.5"/>
<circle cx="602.50" cy="198.7" r="2.15" fill="#ff0000" stroke="#000" stroke-width="0.5"/>
<circle cx="602.50" cy="200.3" r="2.15" fill="#ff0000" stroke="#000" stroke-width="0.5"/>
<circle cx="636.85" cy="202.3" r="2.15" fill="#ff0000" stroke="#000" stroke-width="0.5"/>
<circle cx="636.85" cy="205.0" r="2.15" fill="#ff0000" stroke="#000" stroke-width="0.5"/>
<circle cx="636.85" cy="208.4" r="2.15" fill="#ff0000" stroke="#000" stroke-width="0.5"/>
<circle cx="671.20" cy="197.8" r="2.15" fill="#ff0000" stroke="#000" stroke-width="0.5"/>
<circle cx="671.20" cy="209.8" r="2.15" fill="#ff0000" stroke="#000" stroke-width="0.5"/>
<circle cx="671.20" cy="212.6" r="2.15" fill="#ff0000" stroke="#000" stroke-width="0.5"/>
<circle cx="705.55" cy="201.6" r="2.15" fill="#ff0000" stroke="#000" stroke-width="0.5"/>
<circle cx="327.90" cy="343.0" r="2.15" fill="#ff0000" stroke="#000" stroke-width="0.5"/>
<circle cx="327.90" cy="344.7" r="2.15" fill="#ff0000" stroke="#000" stroke-width="0.5"/>
<circle cx="362.55" cy="352.7" r="2.15" fill="#ff0000" stroke="#000" stroke-width="0.5"/>
<circle cx="397.20" cy="355.9" r="2.15" fill="#ff0000" stroke="#000" stroke-width="0.5"/>
<circle cx="397.20" cy="359.7" r="2.15" fill="#ff0000" stroke="#000" stroke-width="0.5"/>
<circle cx="431.85" cy="349.3" r="2.15" fill="#ff0000" stroke="#000" stroke-width="0.5"/>
<circle cx="466.50" cy="352.8" r="2.15" fill="#ff0000" stroke="#000" stroke-width="0.5"/>
<circle cx="466.50" cy="354.4" r="2.15" fill="#ff0000" stroke="#000" stroke-width="0.5"/>
<circle cx="501.15" cy="363.4" r="2.15" fill="#ff0000" stroke="#000" stroke-width="0.5"/>
<circle cx="533.80" cy="274.3" r="2.15" fill="#ff0000" stroke="#000" stroke-width="0.5"/>
<circle cx="533.80" cy="335.3" r="2.15" fill="#ff0000" stroke="#000" stroke-width="0.5"/>
<circle cx="568.15" cy="291.4" r="2.15" fill="#ff0000" stroke="#000" stroke-width="0.5"/>
<circle cx="568.15" cy="340.8" r="2.15" fill="#ff0000" stroke="#000" stroke-width="0.5"/>
<circle cx="602.50" cy="294.8" r="2.15" fill="#ff0000" stroke="#000" stroke-width="0.5"/>
<circle cx="602.50" cy="345.1" r="2.15" fill="#ff0000" stroke="#000" stroke-width="0.5"/>
<circle cx="602.50" cy="346.9" r="2.15" fill="#ff0000" stroke="#000" stroke-width="0.5"/>
<circle cx="602.50" cy="351.2" r="2.15" fill="#ff0000" stroke="#000" stroke-width="0.5"/>
<circle cx="636.85" cy="349.9" r="2.15" fill="#ff0000" stroke="#000" stroke-width="0.5"/>
<circle cx="636.85" cy="352.0" r="2.15" fill="#ff0000" stroke="#000" stroke-width="0.5"/>
<circle cx="671.20" cy="350.4" r="2.15" fill="#ff0000" stroke="#000" stroke-width="0.5"/>
<circle cx="671.20" cy="352.5" r="2.15" fill="#ff0000" stroke="#000" stroke-width="0.5"/>
<circle cx="705.55" cy="347.2" r="2.15" fill="#ff0000" stroke="#000" stroke-width="0.5"/>
<circle cx="705.55" cy="352.5" r="2.15" fill="#ff0000" stroke="#000" stroke-width="0.5"/>
<circle cx="121.75" cy="82.0" r="2.15" fill="#0000ff" stroke="#000" stroke-width="0.5"/>
<circle cx="121.75" cy="83.9" r="2.15" fill="#0000ff" stroke="#000" stroke-width="0.5"/>
<circle cx="121.75" cy="85.7" r="2.15" fill="#0000ff" stroke="#000" stroke-width="0.5"/>
<circle cx="121.75" cy="101.5" r="2.15" fill="#0000ff" stroke="#000" stroke-width="0.5"/>
<circle cx="156.42" cy="130.4" r="2.15" fill="#0000ff" stroke="#000" stroke-width="0.5"/>
<circle cx="156.42" cy="141.0" r="2.15" fill="#0000ff" stroke="#000" stroke-width="0.5"/>
<circle cx="156.42" cy="143.3" r="2.15" fill="#0000ff" stroke="#000" stroke-width="0.5"/>
<circle cx="191.09" cy="160.1" r="2.15" fill="#0000ff" stroke="#000" stroke-width="0.5"/>
<circle cx="191.09" cy="165.9" r="2.15" fill="#0000ff" stroke="#000" stroke-width="0.5"/>
<circle cx="191.09" cy="170.4" r="2.15" fill="#0000ff" stroke="#000" stroke-width="0.5"/>
<circle cx="191.09" cy="175.7" r="2.15" fill="#0000ff" stroke="#000" stroke-width="0.5"/>
<circle cx="191.09" cy="180.2" r="2.15" fill="#0000ff" stroke="#000" stroke-width="0.5"/>
<circle cx="191.09" cy="183.6" r="2.15" fill="#0000ff" stroke="#000" stroke-width="0.5"/>
<circle cx="225.76" cy="184.0" r="2.15" fill="#0000ff" stroke="#000" stroke-width="0.5"/>
<circle cx="225.76" cy="186.3" r="2.15" fill="#0000ff" stroke="#000" stroke-width="0.5"/>
<circle cx="225.76" cy="197.6" r="2.15" fill="#0000ff" stroke="#000" stroke-width="0.5"/>
<circle cx="260.43" cy="179.4" r="2.15" fill="#0000ff" stroke="#000" stroke-width="0.5"/>
<circle cx="260.43" cy="188.5" r="2.15" fill="#0000ff" stroke="#000" stroke-width="0.5"/>
<circle cx="260.43" cy="194.7" r="2.15" fill="#0000ff" stroke="#000" stroke-width="0.5"/>
<circle cx="295.10" cy="182.9" r="2.15" fill="#0000ff" stroke="#000" stroke-width="0.5"/>
<circle cx="295.10" cy="187.9" r="2.15" fill="#0000ff" stroke="#000" stroke-width="0.5"/>
<circle cx="295.10" cy="190.5" r="2.15" fill="#0000ff" stroke="#000" stroke-width="0.5"/>
<circle cx="327.90" cy="109.2" r="2.15" fill="#0000ff" stroke="#000" stroke-width="0.5"/>
<circle cx="327.90" cy="131.0" r="2.15" fill="#0000ff" stroke="#000" stroke-width="0.5"/>
<circle cx="327.90" cy="136.4" r="2.15" fill="#0000ff" stroke="#000" stroke-width="0.5"/>
<circle cx="327.90" cy="131.0" r="2.15" fill="#0000ff" stroke="#000" stroke-width="0.5"/>
<circle cx="362.55" cy="151.3" r="2.15" fill="#0000ff" stroke="#000" stroke-width="0.5"/>
<circle cx="362.55" cy="153.6" r="2.15" fill="#0000ff" stroke="#000" stroke-width="0.5"/>
<circle cx="362.55" cy="155.6" r="2.15" fill="#0000ff" stroke="#000" stroke-width="0.5"/>
<circle cx="362.55" cy="157.6" r="2.15" fill="#0000ff" stroke="#000" stroke-width="0.5"/>
<circle cx="397.20" cy="170.4" r="2.15" fill="#0000ff" stroke="#000" stroke-width="0.5"/>
<circle cx="397.20" cy="173.6" r="2.15" fill="#0000ff" stroke="#000" stroke-width="0.5"/>
<circle cx="397.20" cy="176.2" r="2.15" fill="#0000ff" stroke="#000" stroke-width="0.5"/>
<circle cx="397.20" cy="179.4" r="2.15" fill="#0000ff" stroke="#000" stroke-width="0.5"/>
<circle cx="397.20" cy="182.0" r="2.15" fill="#0000ff" stroke="#000" stroke-width="0.5"/>
<circle cx="397.20" cy="184.0" r="2.15" fill="#0000ff" stroke="#000" stroke-width="0.5"/>
<circle cx="431.85" cy="200.8" r="2.15" fill="#0000ff" stroke="#000" stroke-width="0.5"/>
<circle cx="431.85" cy="202.8" r="2.15" fill="#0000ff" stroke="#000" stroke-width="0.5"/>
<circle cx="431.85" cy="204.3" r="2.15" fill="#0000ff" stroke="#000" stroke-width="0.5"/>
<circle cx="466.50" cy="208.2" r="2.15" fill="#0000ff" stroke="#000" stroke-width="0.5"/>
<circle cx="466.50" cy="212.5" r="2.15" fill="#0000ff" stroke="#000" stroke-width="0.5"/>
<circle cx="501.15" cy="192.5" r="2.15" fill="#0000ff" stroke="#000" stroke-width="0.5"/>
<circle cx="501.15" cy="197.3" r="2.15" fill="#0000ff" stroke="#000" stroke-width="0.5"/>
<circle cx="533.80" cy="112.8" r="2.15" fill="#0000ff" stroke="#000" stroke-width="0.5"/>
<circle cx="533.80" cy="117.5" r="2.15" fill="#0000ff" stroke="#000" stroke-width="0.5"/>
<circle cx="533.80" cy="140.8" r="2.15" fill="#0000ff" stroke="#000" stroke-width="0.5"/>
<circle cx="568.15" cy="139.9" r="2.15" fill="#0000ff" stroke="#000" stroke-width="0.5"/>
<circle cx="568.15" cy="154.6" r="2.15" fill="#0000ff" stroke="#000" stroke-width="0.5"/>
<circle cx="568.15" cy="165.4" r="2.15" fill="#0000ff" stroke="#000" stroke-width="0.5"/>
<circle cx="602.50" cy="169.6" r="2.15" fill="#0000ff" stroke="#000" stroke-width="0.5"/>
<circle cx="602.50" cy="175.0" r="2.15" fill="#0000ff" stroke="#000" stroke-width="0.5"/>
<circle cx="602.50" cy="180.9" r="2.15" fill="#0000ff" stroke="#000" stroke-width="0.5"/>
<circle cx="602.50" cy="183.6" r="2.15" fill="#0000ff" stroke="#000" stroke-width="0.5"/>
<circle cx="602.50" cy="186.3" r="2.15" fill="#0000ff" stroke="#000" stroke-width="0.5"/>
<circle cx="602.50" cy="188.4" r="2.15" fill="#0000ff" stroke="#000" stroke-width="0.5"/>
<circle cx="602.50" cy="191.7" r="2.15" fill="#0000ff" stroke="#000" stroke-width="0.5"/>
<circle cx="602.50" cy="195.8" r="2.15" fill="#0000ff" stroke="#000" stroke-width="0.5"/>
<circle cx="636.85" cy="185.7" r="2.15" fill="#0000ff" stroke="#000" stroke-width="0.5"/>
<circle cx="636.85" cy="194.7" r="2.15" fill="#0000ff" stroke="#000" stroke-width="0.5"/>
<circle cx="636.85" cy="201.6" r="2.15" fill="#0000ff" stroke="#000" stroke-width="0.5"/>
<circle cx="671.20" cy="194.0" r="2.15" fill="#0000ff" stroke="#000" stroke-width="0.5"/>
<circle cx="671.20" cy="181.8" r="2.15" fill="#0000ff" stroke="#000" stroke-width="0.5"/>
<circle cx="705.55" cy="192.3" r="2.15" fill="#0000ff" stroke="#000" stroke-width="0.5"/>
<circle cx="705.55" cy="197.0" r="2.15" fill="#0000ff" stroke="#000" stroke-width="0.5"/>
<circle cx="705.55" cy="199.2" r="2.15" fill="#0000ff" stroke="#000" stroke-width="0.5"/>
<circle cx="121.75" cy="301.3" r="2.15" fill="#0000ff" stroke="#000" stroke-width="0.5"/>
<circle cx="121.75" cy="306.0" r="2.15" fill="#0000ff" stroke="#000" stroke-width="0.5"/>
<circle cx="121.75" cy="320.6" r="2.15" fill="#0000ff" stroke="#000" stroke-width="0.5"/>
<circle cx="156.42" cy="319.7" r="2.15" fill="#0000ff" stroke="#000" stroke-width="0.5"/>
<circle cx="156.42" cy="330.5" r="2.15" fill="#0000ff" stroke="#000" stroke-width="0.5"/>
<circle cx="156.42" cy="344.7" r="2.15" fill="#0000ff" stroke="#000" stroke-width="0.5"/>
<circle cx="191.09" cy="333.6" r="2.15" fill="#0000ff" stroke="#000" stroke-width="0.5"/>
<circle cx="191.09" cy="337.4" r="2.15" fill="#0000ff" stroke="#000" stroke-width="0.5"/>
<circle cx="191.09" cy="340.9" r="2.15" fill="#0000ff" stroke="#000" stroke-width="0.5"/>
<circle cx="191.09" cy="345.5" r="2.15" fill="#0000ff" stroke="#000" stroke-width="0.5"/>
<circle cx="191.09" cy="349.2" r="2.15" fill="#0000ff" stroke="#000" stroke-width="0.5"/>
<circle cx="191.09" cy="352.5" r="2.15" fill="#0000ff" stroke="#000" stroke-width="0.5"/>
<circle cx="191.09" cy="355.5" r="2.15" fill="#0000ff" stroke="#000" stroke-width="0.5"/>
<circle cx="225.76" cy="342.1" r="2.15" fill="#0000ff" stroke="#000" stroke-width="0.5"/>
<circle cx="225.76" cy="351.9" r="2.15" fill="#0000ff" stroke="#000" stroke-width="0.5"/>
<circle cx="225.76" cy="359.3" r="2.15" fill="#0000ff" stroke="#000" stroke-width="0.5"/>
<circle cx="260.43" cy="339.8" r="2.15" fill="#0000ff" stroke="#000" stroke-width="0.5"/>
<circle cx="260.43" cy="348.4" r="2.15" fill="#0000ff" stroke="#000" stroke-width="0.5"/>
<circle cx="260.43" cy="351.0" r="2.15" fill="#0000ff" stroke="#000" stroke-width="0.5"/>
<circle cx="295.10" cy="342.9" r="2.15" fill="#0000ff" stroke="#000" stroke-width="0.5"/>
<circle cx="295.10" cy="350.2" r="2.15" fill="#0000ff" stroke="#000" stroke-width="0.5"/>
<circle cx="295.10" cy="355.0" r="2.15" fill="#0000ff" stroke="#000" stroke-width="0.5"/>
<circle cx="327.90" cy="350.8" r="2.15" fill="#0000ff" stroke="#000" stroke-width="0.5"/>
<circle cx="327.90" cy="353.8" r="2.15" fill="#0000ff" stroke="#000" stroke-width="0.5"/>
<circle cx="327.90" cy="363.5" r="2.15" fill="#0000ff" stroke="#000" stroke-width="0.5"/>
<circle cx="362.55" cy="358.8" r="2.15" fill="#0000ff" stroke="#000" stroke-width="0.5"/>
<circle cx="362.55" cy="364.6" r="2.15" fill="#0000ff" stroke="#000" stroke-width="0.5"/>
<circle cx="362.55" cy="371.0" r="2.15" fill="#0000ff" stroke="#000" stroke-width="0.5"/>
<circle cx="397.20" cy="364.2" r="2.15" fill="#0000ff" stroke="#000" stroke-width="0.5"/>
<circle cx="397.20" cy="367.0" r="2.15" fill="#0000ff" stroke="#000" stroke-width="0.5"/>
<circle cx="397.20" cy="371.8" r="2.15" fill="#0000ff" stroke="#000" stroke-width="0.5"/>
<circle cx="397.20" cy="376.8" r="2.15" fill="#0000ff" stroke="#000" stroke-width="0.5"/>
<circle cx="397.20" cy="379.1" r="2.15" fill="#0000ff" stroke="#000" stroke-width="0.5"/>
<circle cx="431.85" cy="368.3" r="2.15" fill="#0000ff" stroke="#000" stroke-width="0.5"/>
<circle cx="431.85" cy="376.9" r="2.15" fill="#0000ff" stroke="#000" stroke-width="0.5"/>
<circle cx="431.85" cy="381.7" r="2.15" fill="#0000ff" stroke="#000" stroke-width="0.5"/>
<circle cx="466.50" cy="371.4" r="2.15" fill="#0000ff" stroke="#000" stroke-width="0.5"/>
<circle cx="466.50" cy="381.7" r="2.15" fill="#0000ff" stroke="#000" stroke-width="0.5"/>
<circle cx="466.50" cy="380.3" r="2.15" fill="#0000ff" stroke="#000" stroke-width="0.5"/>
<circle cx="466.50" cy="385.0" r="2.15" fill="#0000ff" stroke="#000" stroke-width="0.5"/>
<circle cx="501.15" cy="381.9" r="2.15" fill="#0000ff" stroke="#000" stroke-width="0.5"/>
<circle cx="501.15" cy="376.0" r="2.15" fill="#0000ff" stroke="#000" stroke-width="0.5"/>
<circle cx="501.15" cy="381.1" r="2.15" fill="#0000ff" stroke="#000" stroke-width="0.5"/>
<circle cx="501.15" cy="387.2" r="2.15" fill="#0000ff" stroke="#000" stroke-width="0.5"/>
<circle cx="533.80" cy="355.8" r="2.15" fill="#0000ff" stroke="#000" stroke-width="0.5"/>
<circle cx="533.80" cy="364.8" r="2.15" fill="#0000ff" stroke="#000" stroke-width="0.5"/>
<circle cx="568.15" cy="370.6" r="2.15" fill="#0000ff" stroke="#000" stroke-width="0.5"/>
<circle cx="568.15" cy="376.7" r="2.15" fill="#0000ff" stroke="#000" stroke-width="0.5"/>
<circle cx="602.50" cy="376.1" r="2.15" fill="#0000ff" stroke="#000" stroke-width="0.5"/>
<circle cx="602.50" cy="378.3" r="2.15" fill="#0000ff" stroke="#000" stroke-width="0.5"/>
<circle cx="602.50" cy="380.9" r="2.15" fill="#0000ff" stroke="#000" stroke-width="0.5"/>
<circle cx="636.85" cy="376.8" r="2.15" fill="#0000ff" stroke="#000" stroke-width="0.5"/>
<circle cx="636.85" cy="385.2" r="2.15" fill="#0000ff" stroke="#000" stroke-width="0.5"/>
<circle cx="671.20" cy="380.0" r="2.15" fill="#0000ff" stroke="#000" stroke-width="0.5"/>
<circle cx="671.20" cy="386.5" r="2.15" fill="#0000ff" stroke="#000" stroke-width="0.5"/>
<circle cx="705.55" cy="384.4" r="2.15" fill="#0000ff" stroke="#000" stroke-width="0.5"/>
<circle cx="705.55" cy="388.5" r="2.15" fill="#0000ff" stroke="#000" stroke-width="0.5"/>
<rect x="104.5" y="13.9" width="618.00" height="407.65" fill="none" stroke="#505050" stroke-width="1.4"/>
<line x1="104.5" y1="217.7" x2="722.5" y2="217.7" stroke="#505050" stroke-width="1.4"/>
<line x1="310.6" y1="13.9" x2="310.6" y2="421.55" stroke="#505050" stroke-width="1.4"/>
<line x1="516.6" y1="13.9" x2="516.6" y2="421.55" stroke="#505050" stroke-width="1.4"/>
<rect x="140.8" y="18.4" width="134.20" height="29.40" fill="#fff" stroke="#444" stroke-width="1.2"/>
<line x1="149.5" y1="21.849999999999998" x2="149.5" y2="30.45" stroke="#555555" stroke-width="1"/>
<line x1="147.3" y1="21.85" x2="151.7" y2="21.85" stroke="#555555" stroke-width="1"/>
<line x1="147.3" y1="30.45" x2="151.7" y2="30.45" stroke="#555555" stroke-width="1"/>
<circle cx="149.5" cy="26.15" r="2.15" fill="#000" stroke="#000" stroke-width="0.5"/>
<text x="158.70000000000002" y="29.45" font-size="9.8" text-anchor="start" font-weight="normal" textLength="84.0" lengthAdjust="spacingAndGlyphs" fill="#000">3.8V (4.2V) Formed</text>
<line x1="149.5" y1="34.5" x2="149.5" y2="43.099999999999994" stroke="#6262ff" stroke-width="1"/>
<line x1="147.3" y1="34.50" x2="151.7" y2="34.50" stroke="#6262ff" stroke-width="1"/>
<line x1="147.3" y1="43.10" x2="151.7" y2="43.10" stroke="#6262ff" stroke-width="1"/>
<circle cx="149.5" cy="38.80" r="2.15" fill="#0000ff" stroke="#000" stroke-width="0.5"/>
<text x="158.70000000000002" y="42.10" font-size="9.8" text-anchor="start" font-weight="normal" textLength="111.6" lengthAdjust="spacingAndGlyphs" fill="#000">3.8V (4.2V) Cycled ~700c</text>
<rect x="346.9" y="18.4" width="133.90" height="41.80" fill="#fff" stroke="#444" stroke-width="1.2"/>
<line x1="355.59999999999997" y1="21.849999999999998" x2="355.59999999999997" y2="30.45" stroke="#555555" stroke-width="1"/>
<line x1="353.4" y1="21.85" x2="357.79999999999995" y2="21.85" stroke="#555555" stroke-width="1"/>
<line x1="353.4" y1="30.45" x2="357.79999999999995" y2="30.45" stroke="#555555" stroke-width="1"/>
<circle cx="355.59999999999997" cy="26.15" r="2.15" fill="#000" stroke="#000" stroke-width="0.5"/>
<text x="364.79999999999995" y="29.45" font-size="9.8" text-anchor="start" font-weight="normal" textLength="84.0" lengthAdjust="spacingAndGlyphs" fill="#000">3.8V (4.2V) Formed</text>
<line x1="355.59999999999997" y1="34.5" x2="355.59999999999997" y2="43.099999999999994" stroke="#ff6464" stroke-width="1"/>
<line x1="353.4" y1="34.50" x2="357.79999999999995" y2="34.50" stroke="#ff6464" stroke-width="1"/>
<line x1="353.4" y1="43.10" x2="357.79999999999995" y2="43.10" stroke="#ff6464" stroke-width="1"/>
<circle cx="355.59999999999997" cy="38.80" r="2.15" fill="#ff0000" stroke="#000" stroke-width="0.5"/>
<text x="364.79999999999995" y="42.10" font-size="9.8" text-anchor="start" font-weight="normal" textLength="111.6" lengthAdjust="spacingAndGlyphs" fill="#000">3.8V (4.2V) Cycled ~400c</text>
<line x1="355.59999999999997" y1="47.150000000000006" x2="355.59999999999997" y2="55.75" stroke="#6262ff" stroke-width="1"/>
<line x1="353.4" y1="47.15" x2="357.79999999999995" y2="47.15" stroke="#6262ff" stroke-width="1"/>
<line x1="353.4" y1="55.75" x2="357.79999999999995" y2="55.75" stroke="#6262ff" stroke-width="1"/>
<circle cx="355.59999999999997" cy="51.45" r="2.15" fill="#0000ff" stroke="#000" stroke-width="0.5"/>
<text x="364.79999999999995" y="54.75" font-size="9.8" text-anchor="start" font-weight="normal" textLength="111.6" lengthAdjust="spacingAndGlyphs" fill="#000">3.8V (4.2V) Cycled ~700c</text>
<rect x="552.8" y="18.4" width="134.00" height="41.80" fill="#fff" stroke="#444" stroke-width="1.2"/>
<line x1="561.5" y1="21.849999999999998" x2="561.5" y2="30.45" stroke="#555555" stroke-width="1"/>
<line x1="559.3" y1="21.85" x2="563.7" y2="21.85" stroke="#555555" stroke-width="1"/>
<line x1="559.3" y1="30.45" x2="563.7" y2="30.45" stroke="#555555" stroke-width="1"/>
<circle cx="561.5" cy="26.15" r="2.15" fill="#000" stroke="#000" stroke-width="0.5"/>
<text x="570.6999999999999" y="29.45" font-size="9.8" text-anchor="start" font-weight="normal" textLength="84.0" lengthAdjust="spacingAndGlyphs" fill="#000">3.8V (4.2V) Formed</text>
<line x1="561.5" y1="34.5" x2="561.5" y2="43.099999999999994" stroke="#ff6464" stroke-width="1"/>
<line x1="559.3" y1="34.50" x2="563.7" y2="34.50" stroke="#ff6464" stroke-width="1"/>
<line x1="559.3" y1="43.10" x2="563.7" y2="43.10" stroke="#ff6464" stroke-width="1"/>
<circle cx="561.5" cy="38.80" r="2.15" fill="#ff0000" stroke="#000" stroke-width="0.5"/>
<text x="570.6999999999999" y="42.10" font-size="9.8" text-anchor="start" font-weight="normal" textLength="111.6" lengthAdjust="spacingAndGlyphs" fill="#000">3.8V (4.2V) Cycled ~400c</text>
<line x1="561.5" y1="47.150000000000006" x2="561.5" y2="55.75" stroke="#6262ff" stroke-width="1"/>
<line x1="559.3" y1="47.15" x2="563.7" y2="47.15" stroke="#6262ff" stroke-width="1"/>
<line x1="559.3" y1="55.75" x2="563.7" y2="55.75" stroke="#6262ff" stroke-width="1"/>
<circle cx="561.5" cy="51.45" r="2.15" fill="#0000ff" stroke="#000" stroke-width="0.5"/>
<text x="570.6999999999999" y="54.75" font-size="9.8" text-anchor="start" font-weight="normal" textLength="111.6" lengthAdjust="spacingAndGlyphs" fill="#000">3.8V (4.2V) Cycled ~700c</text>
<text x="207.6" y="9.9" font-size="11.2" text-anchor="middle" font-weight="bold" textLength="44.4" lengthAdjust="spacingAndGlyphs" >Control</text>
<text x="413.8" y="9.9" font-size="11.2" text-anchor="middle" font-weight="bold" textLength="39.4" lengthAdjust="spacingAndGlyphs" >2% VC</text>
<text x="620.0" y="9.9" font-size="11.2" text-anchor="middle" font-weight="bold" textLength="44.6" lengthAdjust="spacingAndGlyphs" >1% LFO</text>
<text x="110.7" y="28.4" font-size="10.4" text-anchor="start" font-weight="bold" textLength="10.6" lengthAdjust="spacingAndGlyphs" >a)</text>
<text x="111.0" y="232.4" font-size="10.4" text-anchor="start" font-weight="bold" textLength="10.6" lengthAdjust="spacingAndGlyphs" >d)</text>
<text x="316.8" y="28.4" font-size="10.4" text-anchor="start" font-weight="bold" textLength="10.6" lengthAdjust="spacingAndGlyphs" >b)</text>
<text x="317.1" y="232.4" font-size="10.4" text-anchor="start" font-weight="bold" textLength="10.6" lengthAdjust="spacingAndGlyphs" >e)</text>
<text x="522.8000000000001" y="28.4" font-size="10.4" text-anchor="start" font-weight="bold" textLength="10.6" lengthAdjust="spacingAndGlyphs" >c)</text>
<text x="523.1" y="232.4" font-size="10.4" text-anchor="start" font-weight="bold" textLength="10.6" lengthAdjust="spacingAndGlyphs" >f)</text>
<text x="101.6" y="221.2" font-size="10.8" text-anchor="end" font-weight="normal" textLength="6.9" lengthAdjust="spacingAndGlyphs" >0</text>
<text x="101.6" y="180.45" font-size="10.8" text-anchor="end" font-weight="normal" textLength="14.0" lengthAdjust="spacingAndGlyphs" >10</text>
<text x="101.6" y="139.7" font-size="10.8" text-anchor="end" font-weight="normal" textLength="14.0" lengthAdjust="spacingAndGlyphs" >20</text>
<text x="101.6" y="98.94999999999999" font-size="10.8" text-anchor="end" font-weight="normal" textLength="14.0" lengthAdjust="spacingAndGlyphs" >30</text>
<text x="101.6" y="58.19999999999999" font-size="10.8" text-anchor="end" font-weight="normal" textLength="14.0" lengthAdjust="spacingAndGlyphs" >40</text>
<text x="101.6" y="17.44999999999999" font-size="10.8" text-anchor="end" font-weight="normal" textLength="14.0" lengthAdjust="spacingAndGlyphs" >50</text>
<text x="101.6" y="425.05" font-size="10.8" text-anchor="end" font-weight="normal" textLength="6.9" lengthAdjust="spacingAndGlyphs" >0</text>
<text x="101.6" y="383.89" font-size="10.8" text-anchor="end" font-weight="normal" textLength="14.0" lengthAdjust="spacingAndGlyphs" >10</text>
<text x="101.6" y="342.73" font-size="10.8" text-anchor="end" font-weight="normal" textLength="14.0" lengthAdjust="spacingAndGlyphs" >20</text>
<text x="101.6" y="301.57000000000005" font-size="10.8" text-anchor="end" font-weight="normal" textLength="14.0" lengthAdjust="spacingAndGlyphs" >30</text>
<text x="101.6" y="260.41" font-size="10.8" text-anchor="end" font-weight="normal" textLength="14.0" lengthAdjust="spacingAndGlyphs" >40</text>
<text transform="translate(124.85,425.6) rotate(-90)" font-size="10.8" text-anchor="end" textLength="21.4" lengthAdjust="spacingAndGlyphs">−10</text>
<text transform="translate(159.52,425.6) rotate(-90)" font-size="10.8" text-anchor="end" textLength="6.0" lengthAdjust="spacingAndGlyphs">0</text>
<text transform="translate(194.19,425.6) rotate(-90)" font-size="10.8" text-anchor="end" textLength="12.3" lengthAdjust="spacingAndGlyphs">10</text>
<text transform="translate(228.86,425.6) rotate(-90)" font-size="10.8" text-anchor="end" textLength="12.3" lengthAdjust="spacingAndGlyphs">20</text>
<text transform="translate(263.53,425.6) rotate(-90)" font-size="10.8" text-anchor="end" textLength="12.3" lengthAdjust="spacingAndGlyphs">30</text>
<text transform="translate(298.20,425.6) rotate(-90)" font-size="10.8" text-anchor="end" textLength="12.3" lengthAdjust="spacingAndGlyphs">40</text>
<text transform="translate(331.00,425.6) rotate(-90)" font-size="10.8" text-anchor="end" textLength="21.4" lengthAdjust="spacingAndGlyphs">−10</text>
<text transform="translate(365.65,425.6) rotate(-90)" font-size="10.8" text-anchor="end" textLength="6.0" lengthAdjust="spacingAndGlyphs">0</text>
<text transform="translate(400.30,425.6) rotate(-90)" font-size="10.8" text-anchor="end" textLength="12.3" lengthAdjust="spacingAndGlyphs">10</text>
<text transform="translate(434.95,425.6) rotate(-90)" font-size="10.8" text-anchor="end" textLength="12.3" lengthAdjust="spacingAndGlyphs">20</text>
<text transform="translate(469.60,425.6) rotate(-90)" font-size="10.8" text-anchor="end" textLength="12.3" lengthAdjust="spacingAndGlyphs">30</text>
<text transform="translate(504.25,425.6) rotate(-90)" font-size="10.8" text-anchor="end" textLength="12.3" lengthAdjust="spacingAndGlyphs">40</text>
<text transform="translate(536.90,425.6) rotate(-90)" font-size="10.8" text-anchor="end" textLength="21.4" lengthAdjust="spacingAndGlyphs">−10</text>
<text transform="translate(571.25,425.6) rotate(-90)" font-size="10.8" text-anchor="end" textLength="6.0" lengthAdjust="spacingAndGlyphs">0</text>
<text transform="translate(605.60,425.6) rotate(-90)" font-size="10.8" text-anchor="end" textLength="12.3" lengthAdjust="spacingAndGlyphs">10</text>
<text transform="translate(639.95,425.6) rotate(-90)" font-size="10.8" text-anchor="end" textLength="12.3" lengthAdjust="spacingAndGlyphs">20</text>
<text transform="translate(674.30,425.6) rotate(-90)" font-size="10.8" text-anchor="end" textLength="12.3" lengthAdjust="spacingAndGlyphs">30</text>
<text transform="translate(708.65,425.6) rotate(-90)" font-size="10.8" text-anchor="end" textLength="12.3" lengthAdjust="spacingAndGlyphs">40</text>
<text x="207.3" y="459.6" font-size="9.9" text-anchor="middle" font-weight="bold" textLength="100.0" lengthAdjust="spacingAndGlyphs" >Temperature (°C)</text>
<text x="413.6" y="459.6" font-size="9.9" text-anchor="middle" font-weight="bold" textLength="100.0" lengthAdjust="spacingAndGlyphs" >Temperature (°C)</text>
<text x="619.6" y="459.6" font-size="9.9" text-anchor="middle" font-weight="bold" textLength="100.0" lengthAdjust="spacingAndGlyphs" >Temperature (°C)</text>
<text x="33.9" y="106.5" font-size="10.3" text-anchor="middle" font-weight="bold" textLength="55.6" lengthAdjust="spacingAndGlyphs" >Negative</text>
<text x="33.9" y="119.0" font-size="10.3" text-anchor="middle" font-weight="bold" textLength="65.6" lengthAdjust="spacingAndGlyphs" >Symmetric</text>
<text x="33.9" y="131.4" font-size="10.3" text-anchor="middle" font-weight="bold" textLength="29.2" lengthAdjust="spacingAndGlyphs" >Cells</text>
<text x="33.9" y="310.4" font-size="10.3" text-anchor="middle" font-weight="bold" textLength="49.4" lengthAdjust="spacingAndGlyphs" >Positive</text>
<text x="33.9" y="322.8" font-size="10.3" text-anchor="middle" font-weight="bold" textLength="65.6" lengthAdjust="spacingAndGlyphs" >Symmetric</text>
<text x="33.9" y="335.2" font-size="10.3" text-anchor="middle" font-weight="bold" textLength="29.2" lengthAdjust="spacingAndGlyphs" >Cells</text>
<text transform="translate(81.6,115.9) rotate(-90)" font-size="10.2" text-anchor="middle" textLength="89.2" lengthAdjust="spacingAndGlyphs"><tspan font-weight="bold">Rcontact (</tspan><tspan font-family="Liberation Serif, serif" font-style="italic">Ωcm</tspan><tspan font-family="Liberation Serif, serif" font-size="6.5" dy="-5">2</tspan><tspan font-weight="bold" dy="5">)</tspan></text>
<text transform="translate(81.6,319.6) rotate(-90)" font-size="10.2" text-anchor="middle" textLength="89.2" lengthAdjust="spacingAndGlyphs"><tspan font-weight="bold">Rcontact (</tspan><tspan font-family="Liberation Serif, serif" font-style="italic">Ωcm</tspan><tspan font-family="Liberation Serif, serif" font-size="6.5" dy="-5">2</tspan><tspan font-weight="bold" dy="5">)</tspan></text>
</svg>
</body></html>
